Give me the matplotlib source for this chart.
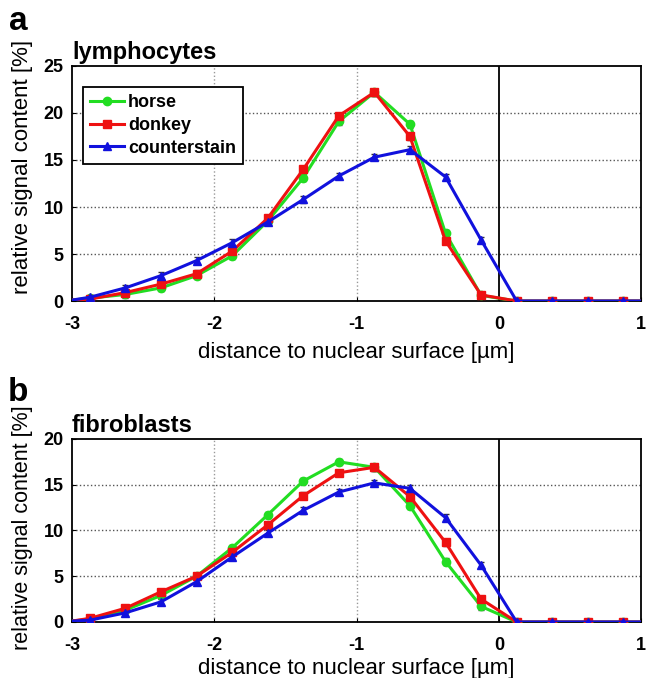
import numpy as np
import matplotlib
matplotlib.use("Agg")
from matplotlib import pyplot as plt

plt.rcParams['font.family'] = ['Liberation Sans', 'DejaVu Sans']

# bin centres (um), first point sits on the left border
x = [-3.0, -2.875, -2.625, -2.375, -2.125, -1.875, -1.625, -1.375, -1.125,
     -0.875, -0.625, -0.375, -0.125, 0.125, 0.375, 0.625, 0.875, 1.0]

# lymphocytes
lym_horse = [0.1, 0.3, 0.7, 1.4, 2.7, 4.8, 8.5, 13.1, 19.1, 22.2, 18.8, 7.2, 0.6, 0, 0, 0, 0, 0]
lym_donkey = [0.1, 0.2, 0.9, 1.8, 2.9, 5.3, 8.8, 14.0, 19.7, 22.2, 17.5, 6.4, 0.65, 0, 0, 0, 0, 0]
lym_counter = [0.1, 0.4, 1.4, 2.7, 4.3, 6.2, 8.4, 10.8, 13.3, 15.3, 16.1, 13.2, 6.5, 0, 0, 0, 0, 0]

# fibroblasts
fib_horse = [0.1, 0.3, 1.3, 2.9, 5.0, 8.1, 11.7, 15.4, 17.5, 16.9, 12.7, 6.6, 1.7, 0, 0, 0, 0, 0]
fib_donkey = [0.1, 0.4, 1.5, 3.3, 5.0, 7.6, 10.6, 13.8, 16.3, 16.9, 13.7, 8.7, 2.5, 0, 0, 0, 0, 0]
fib_counter = [0.1, 0.2, 1.0, 2.2, 4.4, 7.1, 9.7, 12.2, 14.2, 15.2, 14.6, 11.4, 6.2, 0, 0, 0, 0, 0]

labels = ['horse', 'donkey', 'counterstain']
colors = ['#22dd22', '#ee1111', '#1111dd']
markers = ['o', 's', '^']

fig = plt.figure(figsize=(6.46, 6.78), dpi=100)
ax1 = fig.add_axes([0.1115, 0.556, 0.881, 0.3467])
ax2 = fig.add_axes([0.1115, 0.0826, 0.881, 0.270])


def draw(ax, series, ymax, title, xpad, ylab_y, ylab_size):
    xs = np.array(x)
    for ys, lab, c, m in zip(series, labels, colors, markers):
        ys = np.array(ys)
        err = np.where(ys > 0.5, 0.35, 0)
        ax.errorbar(xs[1:-1], ys[1:-1], yerr=err[1:-1], fmt='none',
                    ecolor='#333333', elinewidth=1, capsize=2.5, zorder=2)
        ax.plot(xs, ys, color=c, lw=2.2, zorder=3, label=lab,
                marker=m, markersize=6, markevery=list(range(1, len(xs) - 1)))
    ax.axvline(0, color='black', lw=1.3, zorder=1)
    ax.set_xlim(-3, 1)
    ax.set_ylim(0, ymax)
    ax.set_xticks([-3, -2, -1, 0, 1])
    ax.set_xticklabels(['-3', '-2', '-1', '0', '1'])
    ax.set_yticks(np.arange(0, ymax + 1, 5))
    for t in ax.get_xticklabels() + ax.get_yticklabels():
        t.set_fontweight('bold')
        t.set_fontsize(13)
    ax.tick_params(direction='in', length=3)
    ax.tick_params(axis='x', pad=11)
    ax.tick_params(axis='y', pad=6)
    for v in [-2, -1]:
        ax.axvline(v, color='#999999', lw=1, ls=':', zorder=0)
    for v in np.arange(5, ymax, 5):
        ax.axhline(v, color='#555555', lw=1, ls=':', zorder=0)
    for s in ax.spines.values():
        s.set_linewidth(1.3)
    ax.set_xlabel('distance to nuclear surface [\u00b5m]', fontsize=16, labelpad=xpad)
    ax.set_ylabel('relative signal content [%]', fontsize=ylab_size)
    ax.yaxis.set_label_coords(-0.0685, ylab_y)
    ax.annotate(title, xy=(0, 1), xycoords='axes fraction', xytext=(0, 10),
                textcoords='offset points', fontsize=17, fontweight='bold',
                ha='left', va='center')


draw(ax1, [lym_horse, lym_donkey, lym_counter], 25, 'lymphocytes', 6, 0.57, 16)
draw(ax2, [fib_horse, fib_donkey, fib_counter], 20, 'fibroblasts', 3, 0.515, 15.5)

leg = ax1.legend(loc='upper left', bbox_to_anchor=(0.019, 0.911), borderaxespad=0,
                 prop={'weight': 'bold', 'size': 13}, handlelength=1.9,
                 handletextpad=0.2, borderpad=0.4, labelspacing=0.32,
                 fancybox=False, framealpha=1)
leg.get_frame().set_edgecolor('black')
leg.get_frame().set_linewidth(1.3)

fig.text(0.028, 0.9676, 'a', fontsize=24, fontweight='bold', ha='center', va='center')
fig.text(0.028, 0.4218, 'b', fontsize=24, fontweight='bold', ha='center', va='center')

fig.savefig('out.png', dpi=100)
